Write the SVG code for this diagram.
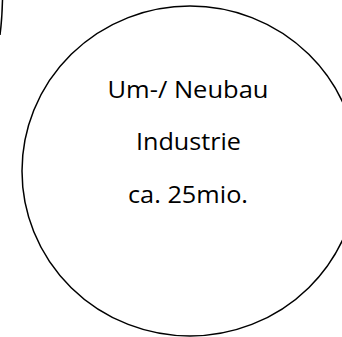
<svg xmlns="http://www.w3.org/2000/svg" width="342" height="337" viewBox="0 0 342 337">
<style>
.shape{fill:none;stroke:#000;stroke-width:1.5}
.lbl{font-family:"Open Sans","Liberation Sans",sans-serif;font-size:23.5px;fill:#000;text-anchor:middle}
</style>
<rect width="342" height="337" fill="#fff"/>
<g id="node-left">
<path class="shape" d="M2.5 0 Q2 20 0 35"/>
</g>
<g id="node-main">
<ellipse class="shape" cx="190" cy="171" rx="168" ry="165"/>
<text class="lbl" x="188" y="98" textLength="161" lengthAdjust="spacingAndGlyphs">Um-/ Neubau</text>
<text class="lbl" x="188.5" y="150" textLength="105" lengthAdjust="spacingAndGlyphs">Industrie</text>
<text class="lbl" x="188" y="203" textLength="120" lengthAdjust="spacingAndGlyphs">ca. 25mio.</text>
</g>
<g id="connectors"></g>
</svg>
